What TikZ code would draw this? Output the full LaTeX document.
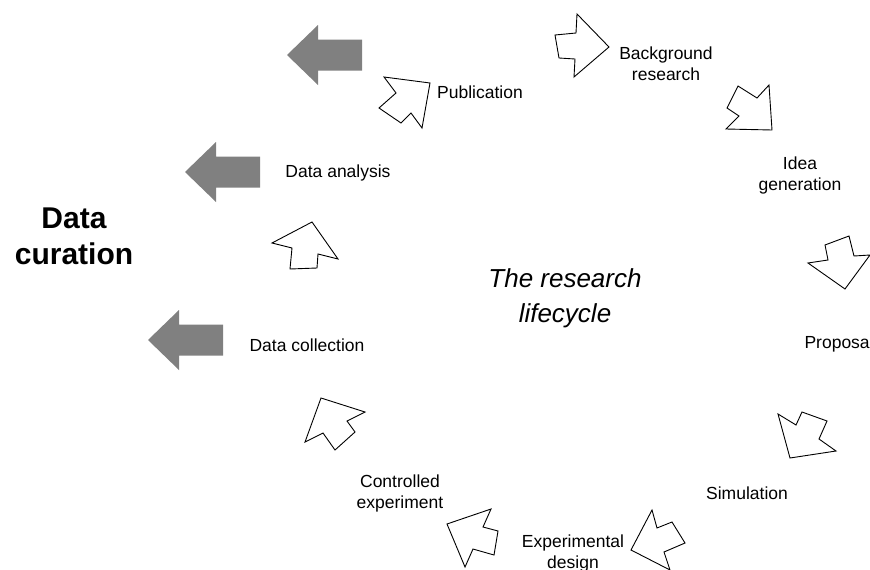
\documentclass[tikz,border=0pt]{standalone}
\usepackage{fontspec}
\setmainfont{Liberation Sans}
\usetikzlibrary{positioning}

\definecolor{curgray}{RGB}{128,128,128}

\tikzset{
  step label/.style={font=\fontsize{17.5}{21}\selectfont,align=center},
  cycle arrow/.style={draw=black,line width=0.9pt,fill=white,line join=miter},
  curation arrow/.style={fill=curgray}
}

\begin{document}
\begin{tikzpicture}[x=1pt,y=-1pt]
  \useasboundingbox (0,0) rectangle (870,570);

  % grey arrows pointing out to the curation label
  \foreach \x/\y in {287/55, 185/172, 148/340}
    \fill[curation arrow] (\x,\y) -- ++(31,-30) -- ++(0,14.5) -- ++(44,0)
      -- ++(0,31) -- ++(-44,0) -- ++(0,14.5) -- cycle;

  % the open arrows going round the cycle
  \draw[cycle arrow] (430,83) -- (384,77) -- (396,93) -- (379,108) -- (401,123) -- (411,113) -- (422,128) -- cycle;
  \draw[cycle arrow] (609,47) -- (577,14) -- (576,33) -- (555,35) -- (559,58) -- (575,59) -- (574,77) -- cycle;
  \draw[cycle arrow] (772,130) -- (769,85) -- (757,98) -- (738,86) -- (727,108) -- (739,116) -- (726,129) -- cycle;
  \draw[cycle arrow] (845,289) -- (870,255) -- (854,256) -- (849,236) -- (825,245) -- (828,260) -- (808,263) -- cycle;
  \draw[cycle arrow] (790,458) -- (836,451) -- (819,439) -- (827,421) -- (802,412) -- (796,425) -- (778,414) -- cycle;
  \draw[cycle arrow] (631,550) -- (670,570) -- (664,552) -- (685,543) -- (672,522) -- (657,528) -- (652,510) -- cycle;
  \draw[cycle arrow] (447,524) -- (465,567) -- (473,549) -- (494,555) -- (498,531) -- (483,527) -- (491,509) -- cycle;
  \draw[cycle arrow] (321,398) -- (305,442) -- (323,433) -- (335,450) -- (355,432) -- (347,421) -- (365,412) -- cycle;
  \draw[cycle arrow] (312,222) -- (272,243) -- (292,248) -- (290,269) -- (317,268) -- (318,254) -- (338,259) -- cycle;

  % stages of the cycle
  \node[step label] (pub) at (480,92) {Publication};
  \node[step label] (bgr) at (666,64) {Background\\research};
  \node[step label] (idea) at (800,175) {Idea\\generation};
  \node[step label,anchor=west] (prop) at (801,344) {Proposal};
  \node[step label] (sim) at (747,493) {Simulation};
  \node[step label] (expd) at (573,553) {Experimental\\design};
  \node[step label] (ctrl) at (400,493) {Controlled\\experiment};
  \node[step label] (coll) at (307,345) {Data collection};
  \node[step label] (anal) at (338,173) {Data analysis};

  \node[font=\fontsize{26}{35}\selectfont\itshape,align=center] (life) at (565,298) {The research\\lifecycle};
  \node[font=\fontsize{30}{36}\selectfont\bfseries,align=center] (cur) at (74,236) {Data\\curation};
\end{tikzpicture}
\end{document}
